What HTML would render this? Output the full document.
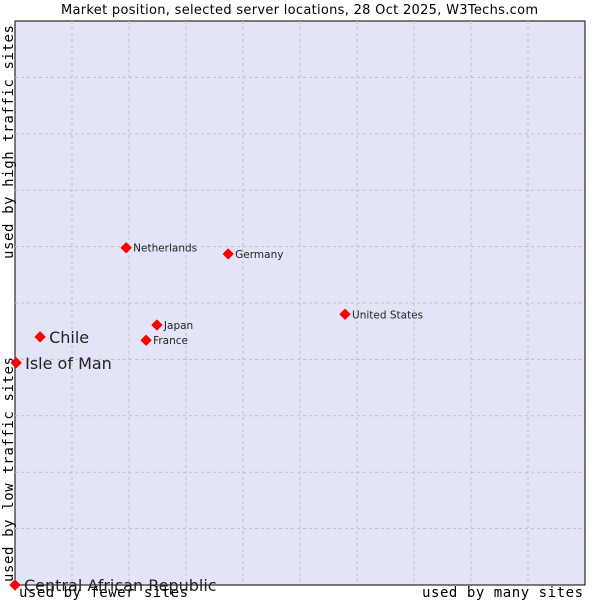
<!DOCTYPE html>
<html><head><meta charset="utf-8"><style>
body{margin:0;background:#fff}
svg{display:block}
</style></head><body>
<svg id="c" width="600" height="600" xmlns="http://www.w3.org/2000/svg">
<text x="61" y="14" textLength="477" font-family="DejaVu Sans, sans-serif" font-size="13" fill="#000">Market position, selected server locations, 28 Oct 2025, W3Techs.com</text>
<rect x="15" y="21" width="570" height="564" fill="#e4e4f8" stroke="#000" stroke-width="1"/>
<g id="grid"></g>
<text x="19" y="597" textLength="169" font-family="DejaVu Sans Mono, monospace" font-size="14">used by fewer sites</text>
<text x="422" y="597" textLength="161" font-family="DejaVu Sans Mono, monospace" font-size="14">used by many sites</text>
<text transform="translate(13,582) rotate(-90)" textLength="225" font-family="DejaVu Sans Mono, monospace" font-size="14">used by low traffic sites</text>
<text transform="translate(13,259) rotate(-90)" textLength="234" font-family="DejaVu Sans Mono, monospace" font-size="14">used by high traffic sites</text>
<g id="pts"></g>
</svg>
<script>
const names = ["Netherlands","Germany","United States","Japan","France","Chile","Isle of Man","Central African Republic"];
const xVals = [19.5,37.4,57.9,24.9,23.0,4.4,0.2,0];
const yVals = [59.8,58.7,48.0,46.1,43.4,44.0,39.4,0];
const big = [false,false,false,false,false,true,true,true];
const NS="http://www.w3.org/2000/svg";
const X0=15,X1=585,Y0=585,Y1=21;
function sx(v){return X0+(X1-X0)*v/100;}
function sy(v){return Y0-(Y0-Y1)*v/100;}
const g=document.getElementById('grid');
for(let i=1;i<10;i++){
  const lv=document.createElementNS(NS,'line');
  lv.setAttribute('x1',sx(i*10));lv.setAttribute('x2',sx(i*10));lv.setAttribute('y1',Y1);lv.setAttribute('y2',Y0);
  lv.setAttribute('stroke','#c0c0c0');lv.setAttribute('stroke-dasharray','3,3');
  
  
  g.appendChild(lv);
  const lh=document.createElementNS(NS,'line');
  lh.setAttribute('y1',sy(i*10));lh.setAttribute('y2',sy(i*10));lh.setAttribute('x1',X0);lh.setAttribute('x2',X1);
  lh.setAttribute('stroke','#c0c0c0');lh.setAttribute('stroke-dasharray','3,3');
  
  
  g.appendChild(lh);
}
const p=document.getElementById('pts');
names.forEach((n,i)=>{
  const x=sx(xVals[i]),y=sy(yVals[i]);
  const d=document.createElementNS(NS,'path');
  d.setAttribute('d',`M${x-5},${y} L${x},${y-5} L${x+5},${y} L${x},${y+5} Z`);
  d.setAttribute('fill','#f00');
  d.setAttribute('stroke','#f00');
  d.setAttribute('stroke-width','1');
  d.setAttribute('stroke-linejoin','round');
  
  
  p.appendChild(d);
  const t=document.createElementNS(NS,'text');
  t.setAttribute('x',x+(big[i]?9:7));
  t.setAttribute('y',y+(big[i]?6:4));
  t.setAttribute('font-family','DejaVu Sans, sans-serif');
  t.setAttribute('font-size',big[i]?'16':'10.5');
  t.setAttribute('fill','#222');
  t.textContent=n;
  
  
  p.appendChild(t);
});
</script>
</body></html>
